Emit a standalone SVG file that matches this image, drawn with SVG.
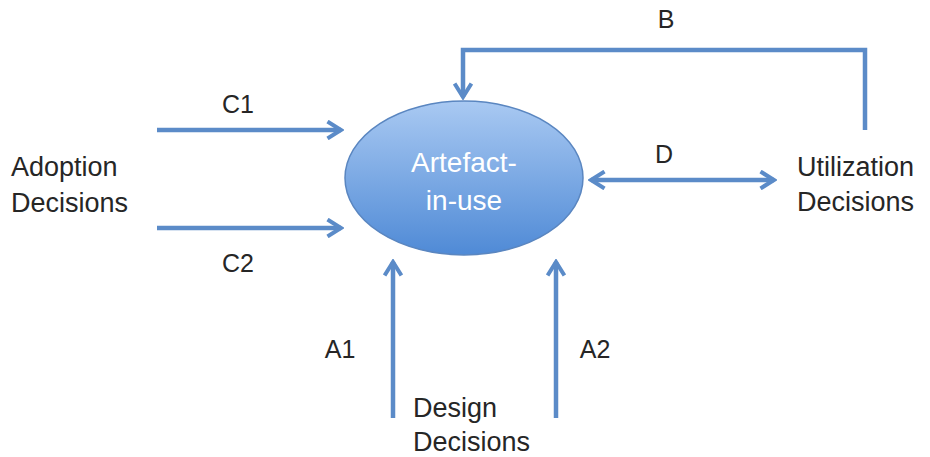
<svg xmlns="http://www.w3.org/2000/svg" width="930" height="457" viewBox="0 0 930 457">
<style>
.lbl{font-family:"Liberation Sans",Arial,sans-serif;font-size:27px;fill:#262626}
.sm{font-family:"Liberation Sans",Arial,sans-serif;font-size:25px;fill:#262626}
.c{stroke:#5b8bc8;stroke-width:4.5;fill:none}
.in{font-family:"Liberation Sans",Arial,sans-serif;font-size:28px;fill:#ffffff}
</style>
<defs>
<linearGradient id="g" x1="0" y1="0" x2="0" y2="1">
<stop offset="0" stop-color="#a9c9f2"/>
<stop offset="1" stop-color="#4f8ad6"/>
</linearGradient>
<marker id="ah" viewBox="0 0 12 12" refX="10" refY="6" markerWidth="4.5" markerHeight="4.5" orient="auto-start-reverse" markerUnits="strokeWidth">
<polyline points="2,1 10,6 2,11" fill="none" stroke="#5b8bc8" stroke-width="2.4"/>
</marker>
</defs>
<rect width="930" height="457" fill="#ffffff"/>
<g id="connectors">
<line class="c" x1="157" y1="130" x2="341" y2="130" marker-end="url(#ah)"/>
<line class="c" x1="157" y1="228" x2="341" y2="228" marker-end="url(#ah)"/>
<polyline class="c" points="865,130 865,50 463,50 463,97" marker-end="url(#ah)"/>
<line class="c" x1="591" y1="180" x2="774" y2="180" marker-start="url(#ah)" marker-end="url(#ah)"/>
<line class="c" x1="393" y1="418" x2="393" y2="262" marker-end="url(#ah)"/>
<line class="c" x1="556" y1="418" x2="556" y2="262" marker-end="url(#ah)"/>
<text class="sm" x="238" y="113" text-anchor="middle">C1</text>
<text class="sm" x="238" y="272" text-anchor="middle">C2</text>
<text class="sm" x="666" y="28" text-anchor="middle">B</text>
<text class="sm" x="664" y="163" text-anchor="middle">D</text>
<text class="sm" x="340" y="358" text-anchor="middle">A1</text>
<text class="sm" x="595" y="358" text-anchor="middle">A2</text>
</g>
<g id="artefact">
<ellipse cx="464" cy="178" rx="119" ry="77" fill="url(#g)" stroke="#5a86c0" stroke-width="1.5"/>
<text class="in" x="464" y="172" text-anchor="middle">Artefact-</text>
<text class="in" x="464" y="210" text-anchor="middle">in-use</text>
</g>
<g id="adoption">
<text class="lbl" x="11" y="176">Adoption</text>
<text class="lbl" x="11" y="212">Decisions</text>
</g>
<g id="utilization">
<text class="lbl" x="797" y="176">Utilization</text>
<text class="lbl" x="797" y="211">Decisions</text>
</g>
<g id="design">
<text class="lbl" x="413" y="417">Design</text>
<text class="lbl" x="413" y="451">Decisions</text>
</g>
</svg>
